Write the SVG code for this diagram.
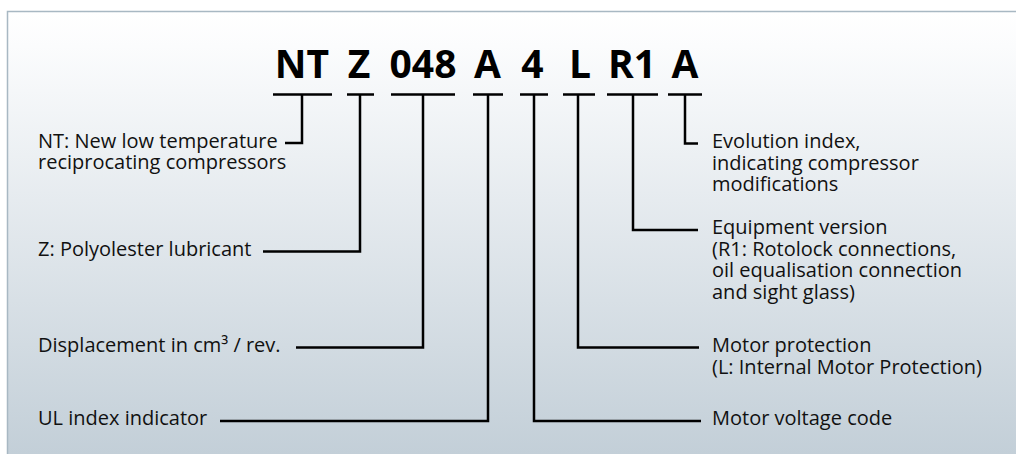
<svg xmlns="http://www.w3.org/2000/svg" width="1016" height="454" viewBox="0 0 1016 454">
  <defs>
    <linearGradient id="bg" x1="0" y1="11" x2="0" y2="454" gradientUnits="userSpaceOnUse">
      <stop offset="0" stop-color="#ffffff"/>
      <stop offset="0.08" stop-color="#fbfcfd"/>
      <stop offset="1" stop-color="#c3cfd8"/>
    </linearGradient>
    <style>
      .code { font-family: "Open Sans", "Liberation Sans", sans-serif; font-weight: 700; font-size: 39px; fill: #000; text-anchor: middle; }
      .lbl { font-family: "Open Sans", "Liberation Sans", sans-serif; font-size: 20px; fill: #111; }
      .conn { fill: none; stroke: #000; stroke-width: 2.5; stroke-linecap: butt; stroke-linejoin: miter; }
    </style>
  </defs>
  <rect x="0" y="0" width="1016" height="454" fill="#ffffff"/>
  <rect id="panel" x="7.5" y="11.5" width="1020" height="460" fill="url(#bg)" stroke="#a8b8c3" stroke-width="1.5"/>

  <g id="connectors">
    <path class="conn" d="M273,94.5 H332 M302,94.5 V143 H285"/>
    <path class="conn" d="M347,94.5 H374 M360,94.5 V251.5 H263"/>
    <path class="conn" d="M391,94.5 H455 M423,94.5 V347.5 H296"/>
    <path class="conn" d="M473,94.5 H503 M488,94.5 V421 H220"/>
    <path class="conn" d="M520,94.5 H548 M534,94.5 V421 H701"/>
    <path class="conn" d="M563,94.5 H595 M578,94.5 V347.5 H699"/>
    <path class="conn" d="M607,94.5 H658 M633,94.5 V230 H698"/>
    <path class="conn" d="M668,94.5 H702 M685,94.5 V143.5 H698"/>
  </g>

  <g id="code-NT"><text class="code" x="302" y="77.5">NT</text></g>
  <g id="code-Z"><text class="code" x="359" y="77.5">Z</text></g>
  <g id="code-048"><text class="code" x="423" y="77.5">048</text></g>
  <g id="code-A"><text class="code" x="487.5" y="77.5">A</text></g>
  <g id="code-4"><text class="code" x="532.5" y="77.5">4</text></g>
  <g id="code-L"><text class="code" x="580" y="77.5">L</text></g>
  <g id="code-R1"><text class="code" x="632" y="77.5">R1</text></g>
  <g id="code-A2"><text class="code" x="685" y="77.5">A</text></g>

  <g id="label-NT">
    <text class="lbl" x="38" y="148">NT: New low temperature</text>
    <text class="lbl" x="38" y="169">reciprocating compressors</text>
  </g>
  <g id="label-Z"><text class="lbl" x="38" y="256">Z: Polyolester lubricant</text></g>
  <g id="label-disp"><text class="lbl" x="38" y="351.5">Displacement in cm³ / rev.</text></g>
  <g id="label-UL"><text class="lbl" x="38" y="425">UL index indicator</text></g>

  <g id="label-evo">
    <text class="lbl" x="712" y="148">Evolution index,</text>
    <text class="lbl" x="712" y="169.5">indicating compressor</text>
    <text class="lbl" x="712" y="191">modifications</text>
  </g>
  <g id="label-equip">
    <text class="lbl" x="712" y="234">Equipment version</text>
    <text class="lbl" x="712" y="255.5">(R1: Rotolock connections,</text>
    <text class="lbl" x="712" y="277">oil equalisation connection</text>
    <text class="lbl" x="712" y="298.5">and sight glass)</text>
  </g>
  <g id="label-motorprot">
    <text class="lbl" x="712" y="352">Motor protection</text>
    <text class="lbl" x="712" y="373.5">(L: Internal Motor Protection)</text>
  </g>
  <g id="label-voltage"><text class="lbl" x="712" y="425">Motor voltage code</text></g>
</svg>
